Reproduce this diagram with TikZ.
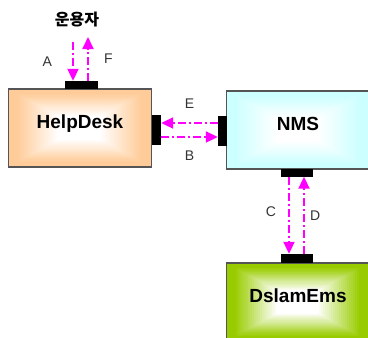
\documentclass[tikz,border=0pt]{standalone}
\usepackage{fontspec}
\setmainfont{Liberation Sans}
\newfontfamily\kofont{Noto Sans CJK KR}
\usetikzlibrary{arrows.meta, positioning, calc}

\definecolor{peach}{HTML}{FFCC99}
\definecolor{paleaqua}{HTML}{CCFFFF}
\definecolor{leafgreen}{HTML}{99CC00}
\definecolor{linkmag}{HTML}{FF00FF}
\definecolor{edgegray}{HTML}{555555}

\tikzset{
    glow/.style={path picture={
        \foreach \k in {0,...,35}{
            \pgfmathtruncatemacro\mix{min(100,max(0,(\k-4)*100/21))}
            \fill[white!\mix!#1] ($(path picture bounding box.south west)+(\k*2pt,\k*1.08pt)$) rectangle ($(path picture bounding box.north east)-(\k*2pt,\k*1.08pt)$);
        }}}
}

\begin{document}
\begin{tikzpicture}[
    x=1pt, y=1pt,
    system/.style={rectangle, draw=edgegray, line width=1.2pt, minimum width=143pt, minimum height=78pt, text height=10pt, text depth=9pt, font=\bfseries\fontsize{19}{22}\selectfont, text=black},
    port/.style={rectangle, fill=black, draw=none, inner sep=0pt},
    msg/.style={-{Triangle[length=12pt, width=11pt]}, draw=linkmag, line width=2pt, dash pattern=on 8pt off 3pt on 2pt off 3pt},
    tag/.style={inner sep=0pt, font=\fontsize{14}{16}\selectfont, text=black!80}
]
\useasboundingbox (0,0) rectangle (368,-338);
\clip (0,0) rectangle (368,-338);

% Systems
\node[system, glow=peach]     (helpdesk) at (80, -128)  {HelpDesk};
\node[system, glow=paleaqua]  (nms)      at (298, -130) {NMS};
\node[system, glow=leafgreen] (dslam)    at (298, -302) {DslamEms};
\node[font=\kofont\bfseries\fontsize{16}{18}\selectfont] (user) at (77, -20) {운용자};

% Ports
\node[port, minimum width=33pt, minimum height=8pt] (hdtop)   at (81.5, -85)   {};
\node[port, minimum width=9pt,  minimum height=30pt] (hdright) at (156.5, -130) {};
\node[port, minimum width=9pt,  minimum height=30pt] (nmsleft) at (222.5, -131) {};
\node[port, minimum width=32pt, minimum height=8pt] (nmsbot)  at (297, -172.5) {};
\node[port, minimum width=32pt, minimum height=9pt] (emstop)  at (297, -258.5) {};

\coordinate (afrom) at (73, -42);
\coordinate (fto)   at (88, -37);

% Messages
\draw[msg] (afrom) -- node[tag, left=20pt] {A} (afrom |- hdtop.north);
\draw[msg] (fto |- hdtop.north) -- node[tag, right=15pt] {F} (fto);
\draw[msg] ([yshift=8pt]nmsleft.west) -- node[tag, above=14pt] {E} ([yshift=8pt]nmsleft.west -| hdright.east);
\draw[msg] ([yshift=-6pt]nmsleft.west -| hdright.east) -- node[tag, below=13pt] {B} ([yshift=-6pt]nmsleft.west);
\draw[msg] ([xshift=-8pt]nmsbot.south) -- node[tag, left=12pt, pos=0.45] {C} ([xshift=-8pt]emstop.north);
\draw[msg] ([xshift=7pt]emstop.north) -- node[tag, right=5pt] {D} ([xshift=7pt]nmsbot.south);

\end{tikzpicture}
\end{document}
